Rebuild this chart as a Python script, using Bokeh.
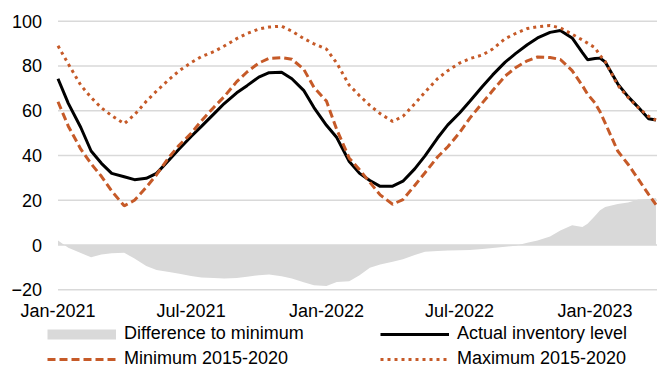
import pandas as pd
from bokeh.plotting import figure
from bokeh.models import (ColumnDataSource, Range1d, FixedTicker, MonthsTicker,
                          DatetimeTickFormatter, Legend, LegendItem)
from bokeh.embed import file_html
from bokeh.resources import INLINE

# ---------------- data ----------------
DATES = [
    "2021-01-01", "2021-01-15", "2021-02-01", "2021-02-15", "2021-03-01", "2021-03-15",
    "2021-04-01", "2021-04-15", "2021-05-01", "2021-05-15", "2021-06-01", "2021-06-15",
    "2021-07-01", "2021-07-15", "2021-08-01", "2021-08-15", "2021-09-01", "2021-09-15",
    "2021-10-01", "2021-10-15", "2021-11-01", "2021-11-15", "2021-12-01", "2021-12-15",
    "2022-01-01", "2022-01-15", "2022-02-01", "2022-02-15", "2022-03-01", "2022-03-15",
    "2022-04-01", "2022-04-15", "2022-05-01", "2022-05-15", "2022-06-01", "2022-06-15",
    "2022-07-01", "2022-07-15", "2022-08-01", "2022-08-15", "2022-09-01", "2022-09-15",
    "2022-10-01", "2022-10-15", "2022-11-01", "2022-11-15", "2022-12-01", "2022-12-15",
    "2022-12-22",
    "2023-01-01", "2023-01-08", "2023-01-15", "2023-02-01", "2023-02-15", "2023-03-01",
    "2023-03-15", "2023-03-25",
]

ACTUAL = [
    74.3, 63.3, 52.5, 42.0, 36.5, 32.0, 30.5, 29.2, 29.8, 32.0, 38.0, 43.0,
    48.5, 53.0, 58.6, 63.2, 68.0, 71.2, 75.0, 77.0, 77.2, 74.3, 69.1, 61.4,
    53.5, 48.0, 37.3, 32.0, 28.8, 26.2, 26.3, 28.5, 34.0, 39.8, 47.8, 53.7,
    59.0, 64.2, 70.8, 76.0, 81.7, 85.5, 89.5, 92.5, 95.0, 95.8, 92.5, 86.0,
    82.8,
    83.3, 83.5, 81.8, 72.0, 66.3, 61.5, 56.4, 55.9,
]

MINIMUM = [
    64.0, 53.1, 42.8, 36.3, 30.7, 24.1, 17.5, 20.0, 25.8, 31.4, 39.2, 44.7,
    49.9, 55.5, 61.6, 66.3, 73.0, 77.3, 81.3, 83.4, 83.7, 83.0, 78.6, 70.4,
    64.3, 51.6, 38.8, 33.6, 28.0, 22.4, 18.2, 20.3, 26.6, 32.3, 39.3, 43.9,
    50.2, 56.7, 63.5, 69.0, 75.5, 79.2, 82.3, 84.0, 83.8, 82.9, 77.9, 71.2,
    67.4,
    63.5, 59.5, 54.5, 42.0, 36.1, 29.4, 22.6, 18.0,
]

MAXIMUM = [
    89.0, 80.9, 71.4, 65.9, 61.3, 57.8, 54.2, 58.2, 64.2, 68.8, 74.0, 77.9,
    81.5, 84.2, 86.4, 88.9, 92.2, 94.5, 96.5, 97.4, 97.8, 95.5, 92.3, 89.9,
    87.5, 81.3, 71.4, 66.7, 62.4, 58.7, 55.2, 57.5, 63.1, 68.3, 74.3, 77.9,
    81.3, 83.3, 84.9, 87.6, 92.2, 94.5, 96.7, 97.5, 98.1, 97.0, 94.2, 91.6,
    90.2,
    88.2, 84.7, 82.0, 71.4, 66.0, 61.3, 57.5, 55.8,
]

DIFFERENCE = [
    2.0, -1.2, -3.6, -5.5, -4.2, -3.7, -3.5, -6.0, -9.4, -11.2, -12.1, -12.9,
    -13.8, -14.5, -14.8, -15.0, -14.8, -14.2, -13.5, -13.2, -14.0, -15.0, -16.6, -18.0,
    -18.3, -16.5, -16.2, -13.5, -10.2, -8.7, -7.5, -6.4, -4.5, -3.0, -2.7, -2.5,
    -2.4, -2.2, -1.8, -1.3, -0.8, -0.3, 1.0, 2.0, 3.8, 6.5, 8.8, 8.0,
    9.5,
    13.0, 15.5, 17.0, 18.3, 19.0, 20.3, 20.6, 21.0,
]

Y_TICKS = [-20, 0, 20, 40, 60, 80, 100]
X_TICK_MONTHS = [0, 6]          # January and July
X_TICK_FORMAT = "%b-%Y"

LABELS = ["Difference to minimum", "Actual inventory level",
          "Minimum 2015-2020", "Maximum 2015-2020"]

# ---------------- styles / layout ----------------
FONT = "Liberation Sans"
ORANGE = "#C65A28"
GREY = "#D9D9D9"
W, H = 657, 369
PX_PER_DAY = 0.7355
PX_PER_UNIT = 2.238
FIRST_PX = 57.5          # horizontal pixel of the first data point
TOP_TICK_PX = 20.7       # vertical pixel of the 100 gridline

first = pd.Timestamp(DATES[0])
x_start = first - pd.Timedelta(days=FIRST_PX / PX_PER_DAY)
x_end = x_start + pd.Timedelta(days=W / PX_PER_DAY)
y_top = Y_TICKS[-1] + TOP_TICK_PX / PX_PER_UNIT
y_bottom = y_top - H / PX_PER_UNIT

dates = pd.to_datetime(DATES)
src = ColumnDataSource(dict(date=dates, actual=ACTUAL, minimum=MINIMUM,
                            maximum=MAXIMUM, diff=DIFFERENCE))

p = figure(width=W, height=H, x_axis_type="datetime",
           x_range=Range1d(x_start, x_end), y_range=Range1d(y_bottom, y_top),
           output_backend="svg", toolbar_location=None,
           min_border_left=0, min_border_right=0,
           min_border_top=0, min_border_bottom=0)

p.outline_line_color = None
p.background_fill_color = "white"
p.border_fill_color = "white"

# horizontal gridlines that start at the first data point (as in the reference)
grid_src = ColumnDataSource(dict(x0=[first] * len(Y_TICKS),
                                 x1=[x_end] * len(Y_TICKS), y=Y_TICKS))
p.segment(x0="x0", y0="y", x1="x1", y1="y", source=grid_src,
          line_color=GREY, line_width=1.5)

# renderers
r_diff = p.varea(x="date", y1=0, y2="diff", source=src, fill_color=GREY)
r_act = p.line(x="date", y="actual", source=src, line_color="black", line_width=3)
r_min = p.line(x="date", y="minimum", source=src, line_color=ORANGE, line_width=3,
               line_dash="8 4")
r_max = p.line(x="date", y="maximum", source=src, line_color=ORANGE, line_width=3,
               line_dash="3 4")
# legend-only swatch for the area (thin grey bar); holds no drawable point
r_diff_key = p.line(x=[float("nan")], y=[float("nan")], line_color=GREY, line_width=10)

# axes, pinned inside the frame
p.yaxis.ticker = FixedTicker(ticks=Y_TICKS)
p.xaxis.ticker = MonthsTicker(months=X_TICK_MONTHS)
p.xaxis.formatter = DatetimeTickFormatter(days=X_TICK_FORMAT, months=X_TICK_FORMAT,
                                          years=X_TICK_FORMAT)
p.xaxis.fixed_location = Y_TICKS[0]
p.yaxis.fixed_location = first.value / 1e6   # ms since epoch
for ax in (p.xaxis[0], p.yaxis[0]):
    ax.axis_line_color = None
    ax.major_tick_line_color = None
    ax.minor_tick_line_color = None
    ax.major_tick_out = 0
    ax.major_tick_in = 0
    ax.minor_tick_out = 0
    ax.major_label_text_font = FONT
    ax.major_label_text_font_size = "18px"
    ax.major_label_text_color = "black"
p.yaxis.major_label_standoff = 16
p.xaxis.major_label_standoff = 11

p.xgrid.visible = False
p.ygrid.visible = False

legend = Legend(
    items=[LegendItem(label=LABELS[0], renderers=[r_diff_key]),
           LegendItem(label=LABELS[2], renderers=[r_min]),
           LegendItem(label=LABELS[1], renderers=[r_act]),
           LegendItem(label=LABELS[3], renderers=[r_max])],
    location=(47, 0), orientation="vertical", ncols=2,
    border_line_color=None, background_fill_alpha=0,
    padding=0, margin=0, spacing=4,
    glyph_width=69, glyph_height=20, label_height=20, label_width=252,
    label_standoff=8, label_text_font=FONT,
    label_text_font_size="18px", label_text_color="black")
p.add_layout(legend)

open("out.html", "w").write(file_html(p, INLINE))
